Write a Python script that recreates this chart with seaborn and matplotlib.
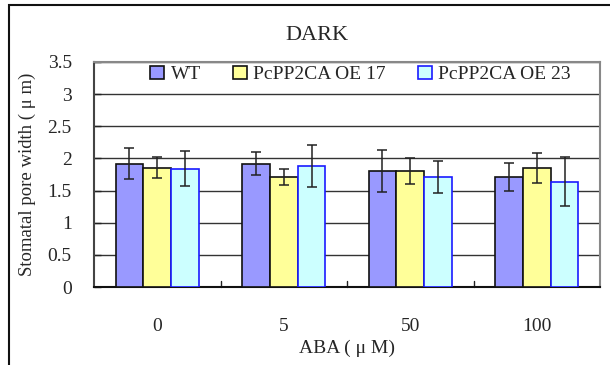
import matplotlib
matplotlib.use("Agg")
import matplotlib.pyplot as plt
import seaborn as sns
import pandas as pd
from matplotlib.patches import Rectangle

# ABA treatment levels (uM) and genotype lines
aba_levels = ["0", "5", "50", "100"]
lines = ["WT", "PcPP2CA OE 17", "PcPP2CA OE 23"]

# mean stomatal pore width (um) per line, one value per ABA level
wt_mean = [1.92, 1.92, 1.80, 1.71]
oe17_mean = [1.855, 1.715, 1.80, 1.855]
oe23_mean = [1.84, 1.88, 1.71, 1.64]

# error bar half-lengths
wt_err = [0.245, 0.185, 0.325, 0.215]
oe17_err = [0.165, 0.125, 0.20, 0.235]
oe23_err = [0.275, 0.33, 0.255, 0.38]

y_ticks = [0, 0.5, 1, 1.5, 2, 2.5, 3, 3.5]

means = {lines[0]: wt_mean, lines[1]: oe17_mean, lines[2]: oe23_mean}
errs = {lines[0]: wt_err, lines[1]: oe17_err, lines[2]: oe23_err}

df = pd.DataFrame(
    [(lvl, ln, means[ln][i]) for ln in lines for i, lvl in enumerate(aba_levels)],
    columns=["aba", "line", "width"],
)

fills = {lines[0]: "#9999FF", lines[1]: "#FFFF99", lines[2]: "#CCFFFF"}
edges = {lines[0]: "#111111", lines[1]: "#111111", lines[2]: "#1a1aff"}

sns.set_theme(style="white")
plt.rcParams["font.family"] = ["Liberation Serif", "Noto Sans CJK TC", "DejaVu Sans"]

fig = plt.figure(figsize=(6.10, 3.65), dpi=100)
ax = fig.add_axes([94 / 610, 1 - 287 / 365, (600 - 94) / 610, (287 - 62) / 365])

sns.barplot(
    data=df, x="aba", y="width", hue="line", order=aba_levels, hue_order=lines,
    palette=fills, saturation=1, width=0.66, errorbar=None, ax=ax, zorder=3,
    legend=False,
)

for ln, cont in zip(lines, ax.containers):
    xs = []
    hs = []
    for bar in cont:
        bar.set_edgecolor(edges[ln])
        bar.set_linewidth(1.2)
        xs.append(bar.get_x() + bar.get_width() / 2)
        hs.append(bar.get_height())
    ax.errorbar(xs, hs, yerr=errs[ln], fmt="none", ecolor="#222222",
                elinewidth=1.1, capsize=3.4, capthick=1.1, zorder=4)

ax.set_ylim(0, 3.5)
ax.set_xlim(-0.5, 3.5)
ax.set_yticks(y_ticks)
ax.set_yticklabels([f"{t:g}" for t in y_ticks], fontsize=14)
ax.tick_params(axis="x", length=0, pad=22, labelsize=14)
ax.tick_params(axis="y", direction="in", length=5, width=1, color="#222222",
               pad=16, left=True)
ax.yaxis.grid(True, color="#333333", linewidth=1.0, zorder=0)
ax.set_axisbelow(True)

# category separators on the bottom axis
for b in [0.5, 1.5, 2.5]:
    ax.plot([b, b], [0, 0.09], color="#222222", linewidth=1, zorder=2,
            clip_on=False)

for side in ["top", "right"]:
    ax.spines[side].set_color("#888888")
    ax.spines[side].set_linewidth(1.5)
ax.spines["left"].set_color("#444444")
ax.spines["left"].set_linewidth(1.5)
ax.spines["bottom"].set_color("#111111")
ax.spines["bottom"].set_linewidth(1.5)

ax.set_xlabel("ABA ( \u03bc M)", fontsize=14, labelpad=4)
ax.set_ylabel("Stomatal pore width ( \u03bc m)", fontsize=13.5, labelpad=8)
fig.text(317 / 610, 1 - 36 / 365, "DARK", ha="center", va="center",
         fontsize=16)

handles = [Rectangle((0, 0), 1, 1, facecolor=fills[ln], edgecolor=edges[ln],
                     linewidth=1.2) for ln in lines]
ax.legend(handles, lines, loc="upper center", bbox_to_anchor=(0.527, 1.035),
          ncol=3, frameon=False, fontsize=14, handlelength=0.7,
          handleheight=0.7, handletextpad=0.35, columnspacing=1.65,
          borderaxespad=0.2)

# outer frame
fig.patches.append(Rectangle((9 / 610, -0.05), 1.2, 1 - 5 / 365 + 0.05,
                             transform=fig.transFigure, fill=False,
                             edgecolor="#111111", linewidth=1.5))

fig.savefig("out.png", dpi=100)
